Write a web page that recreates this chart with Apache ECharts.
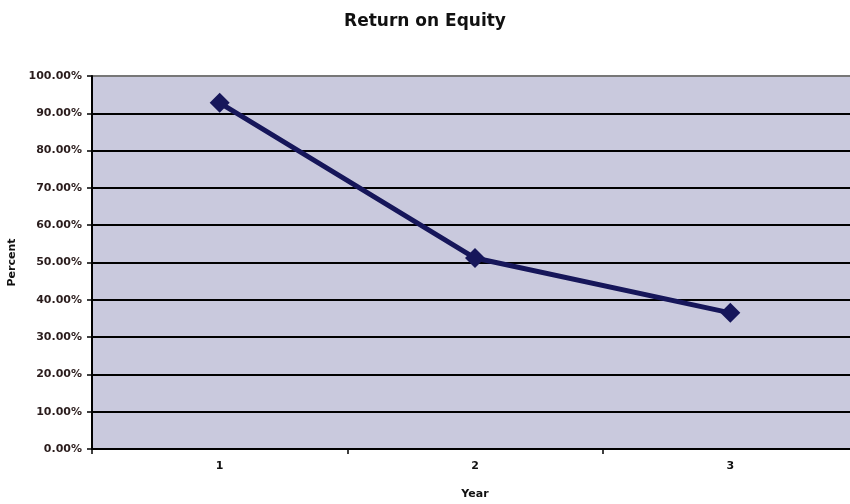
<!DOCTYPE html>
<html><head><meta charset="utf-8">
<script src="https://cdn.jsdelivr.net/npm/echarts@6/dist/echarts.min.js"></script>
<style>html,body{margin:0;padding:0;background:#fff}#c{width:850px;height:504px}</style>
</head><body><div id="c"></div>
<script>
const categories = ['1', '2', '3'];
const roeValues = [92.8, 51.2, 36.5];
const chart = echarts.init(document.getElementById('c'));
chart.setOption({
  backgroundColor: '#ffffff',
  animation: false,
  title: {
    text: 'Return on Equity', left: 'center', top: 8,
    textStyle: { fontFamily: 'DejaVu Sans', fontWeight: 'bold', fontSize: 17, color: '#111' }
  },
  grid: { left: 92, width: 766, top: 76, height: 373, outerBoundsMode: 'none', containLabel: false,
    show: true, backgroundColor: '#c9c9dd', borderWidth: 0 },
  xAxis: {
    type: 'category', data: categories, boundaryGap: true,
    name: 'Year', nameLocation: 'middle', nameGap: 40,
    nameTextStyle: { fontFamily: 'DejaVu Sans', fontWeight: 'bold', fontSize: 11, color: '#111' },
    axisLine: { lineStyle: { color: '#000', width: 2 } },
    axisTick: { show: true, length: 5, lineStyle: { color: '#000', width: 1.5 } },
    axisLabel: { fontFamily: 'DejaVu Sans', fontWeight: 'bold', fontSize: 11, color: '#111', margin: 12 }
  },
  yAxis: {
    type: 'value', min: 0, max: 100, interval: 10,
    name: 'Percent', nameLocation: 'middle', nameGap: 74, nameRotate: 90,
    nameTextStyle: { fontFamily: 'DejaVu Sans', fontWeight: 'bold', fontSize: 11, color: '#111' },
    axisLine: { show: true, lineStyle: { color: '#000', width: 2 } },
    axisTick: { show: true, length: 5, lineStyle: { color: '#000', width: 1.5 } },
    axisLabel: { fontFamily: 'DejaVu Sans', fontWeight: 'bold', fontSize: 11, color: '#2a1c1c', margin: 10,
      formatter: v => v.toFixed(2) + '%' },
    splitLine: { show: true, lineStyle: { color: ['#000','#000','#000','#000','#000','#000','#000','#000','#000','#000','#777'], width: 2 } }
  },
  series: [{
    type: 'line', data: roeValues,
    symbol: 'diamond', symbolSize: 20,
    lineStyle: { color: '#16165a', width: 5 },
    itemStyle: { color: '#16165a' }
  }]
});
</script></body></html>
